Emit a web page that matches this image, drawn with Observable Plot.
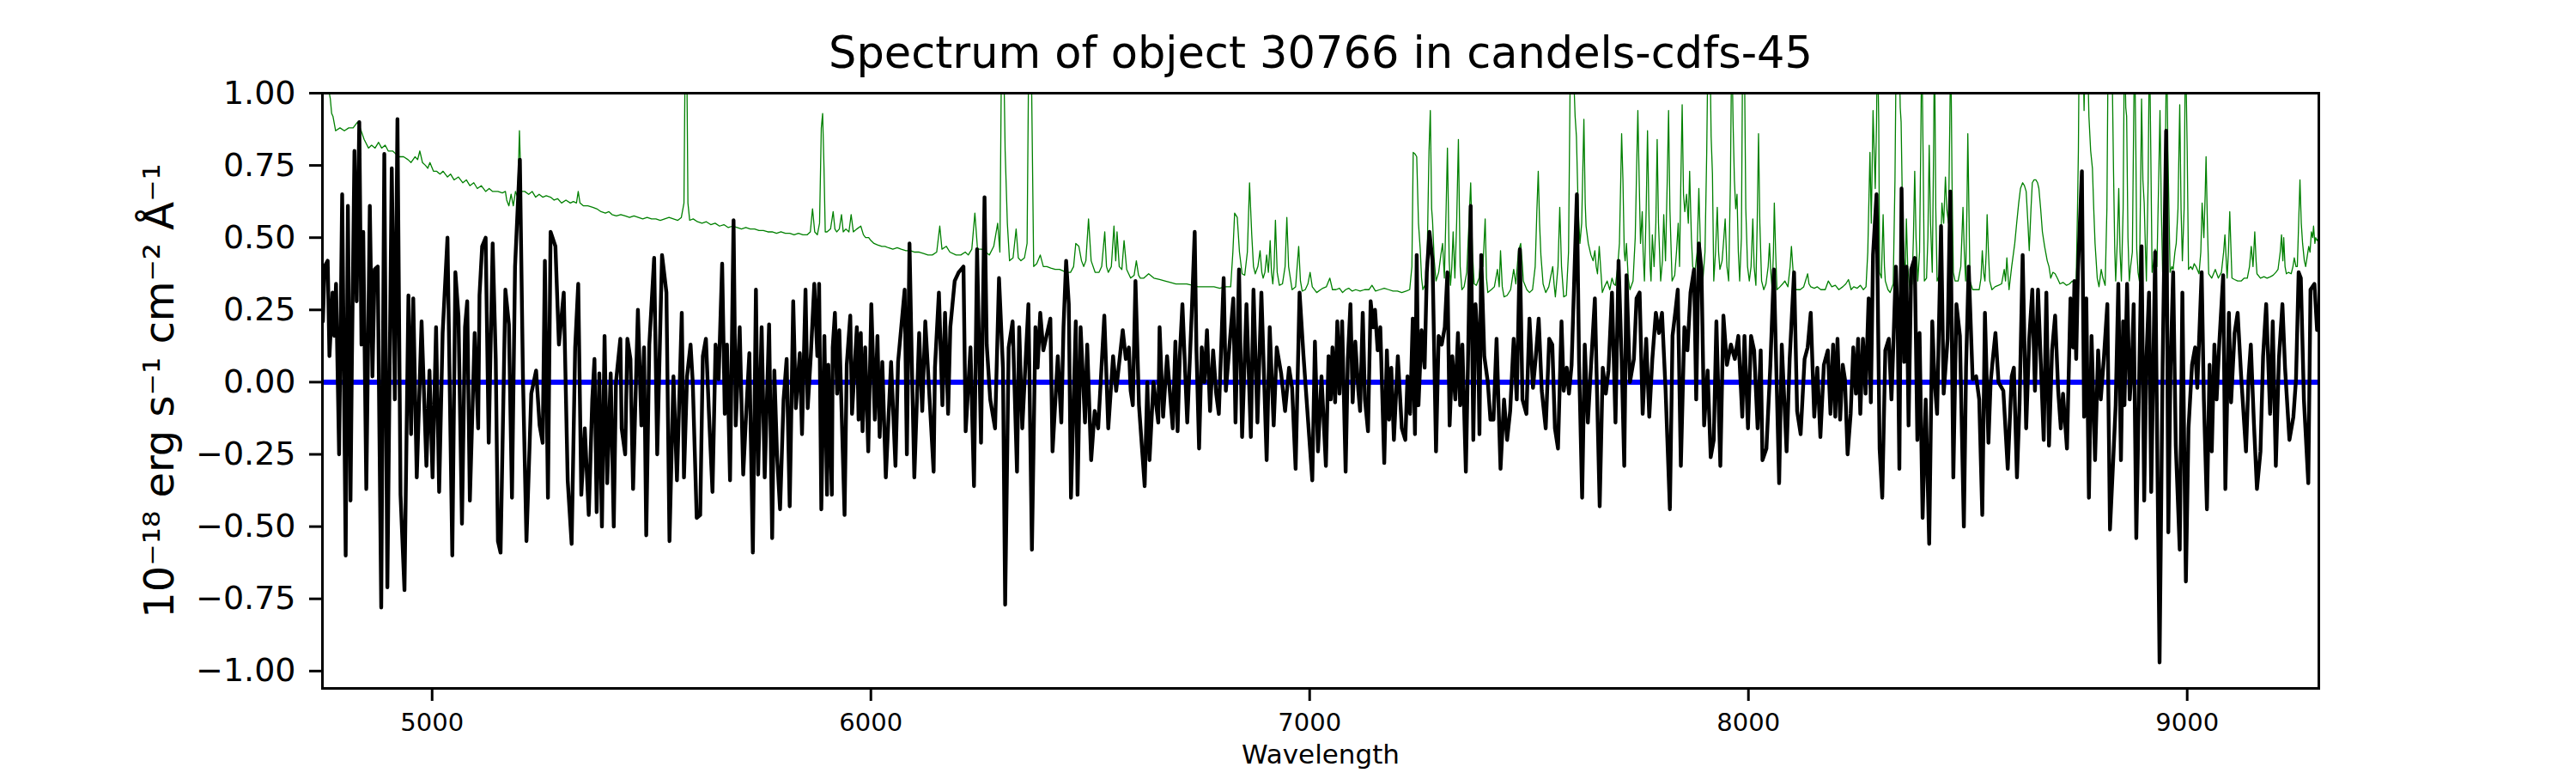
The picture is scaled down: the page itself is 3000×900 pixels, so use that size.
<!DOCTYPE html>
<html><head><meta charset="utf-8">
<script src="https://cdn.jsdelivr.net/npm/d3@7"></script>
<script src="https://cdn.jsdelivr.net/npm/@observablehq/plot@0.6"></script>
<style>html,body{margin:0;padding:0;background:#fff;} #chart{width:3000px;height:900px;}</style>
</head><body><div id="chart"></div>
<script>
const titleText = "Spectrum of object 30766 in candels-cdfs-45";
const xLabel = "Wavelength";
const yLabel = "10\u207B\u00B9\u2078 erg s\u207B\u00B9 cm\u207B\u00B2 \u00C5\u207B\u00B9";
const xTicks = [5000, 6000, 7000, 8000, 9000];
const yTicks = [-1, -0.75, -0.5, -0.25, 0, 0.25, 0.5, 0.75, 1];
const xDomain = [4750, 9300];
const yDomain = [-1.06, 1.0];
const zeroLevel = [0];

// observed flux: [wavelength, flux]
const fluxPairs = [
[4751,0.21],[4755,0.40],[4762,0.42],[4766,0.09],[4773,0.31],[4777,0.16],[4781,0.34],[4788,-0.25],[4795,0.65],[4803,-0.60],
[4808,0.61],[4814,-0.41],[4817,0.05],[4823,0.80],[4828,0.28],[4834,0.90],[4839,0.13],[4843,0.52],[4850,-0.37],[4858,0.61],
[4864,0.02],[4869,0.39],[4876,0.40],[4884,-0.78],[4891,0.79],[4898,-0.71],[4908,0.74],[4915,-0.06],[4921,0.91],[4928,-0.39],
[4937,-0.72],[4946,0.30],[4952,-0.18],[4957,0.29],[4965,-0.33],[4976,0.21],[4987,-0.29],[4994,0.04],[5001,-0.33],[5009,0.19],
[5016,-0.38],[5024,0.17],[5035,0.50],[5046,-0.60],[5053,0.38],[5060,0.23],[5068,-0.49],[5075,0.19],[5080,0.28],[5086,-0.41],
[5097,0.17],[5105,-0.16],[5108,0.30],[5114,0.47],[5122,0.50],[5129,-0.21],[5138,0.48],[5145,0.08],[5150,-0.55],[5156,-0.59],
[5167,0.32],[5175,0.20],[5182,-0.40],[5189,0.40],[5200,0.77],[5207,0.02],[5215,-0.55],[5226,-0.04],[5237,0.04],[5245,-0.15],
[5252,-0.21],[5257,0.42],[5264,-0.40],[5270,0.52],[5281,0.47],[5289,0.13],[5300,0.31],[5309,-0.34],[5318,-0.56],[5326,0.12],
[5333,0.34],[5340,-0.39],[5348,-0.16],[5357,-0.46],[5365,-0.06],[5370,0.08],[5375,-0.45],[5381,0.03],[5387,-0.50],[5393,0.16],
[5399,-0.35],[5407,0.03],[5414,-0.50],[5419,0.00],[5429,0.15],[5432,-0.16],[5440,-0.25],[5445,0.15],[5452,0.08],[5458,-0.37],
[5469,0.25],[5477,-0.15],[5483,0.12],[5488,-0.53],[5495,0.13],[5506,0.43],[5513,-0.25],[5524,0.44],[5534,0.31],[5541,-0.55],
[5550,0.02],[5558,-0.34],[5569,0.24],[5574,-0.33],[5581,0.02],[5589,0.13],[5594,0.00],[5603,-0.47],[5611,-0.46],[5617,0.09],
[5624,0.15],[5631,-0.11],[5639,-0.38],[5646,0.13],[5653,0.01],[5661,0.41],[5667,-0.11],[5672,0.13],[5679,-0.34],[5687,0.56],
[5692,-0.15],[5701,0.19],[5709,-0.32],[5716,-0.10],[5723,0.10],[5731,-0.59],[5738,0.32],[5743,-0.32],[5751,0.19],[5758,-0.33],
[5768,0.20],[5775,-0.54],[5780,0.04],[5786,-0.25],[5793,-0.44],[5801,-0.06],[5808,0.08],[5815,-0.43],[5823,0.28],[5829,-0.09],
[5838,0.10],[5843,-0.18],[5851,0.32],[5856,-0.09],[5863,0.09],[5871,0.34],[5878,0.09],[5882,0.34],[5887,-0.44],[5894,0.16],
[5900,-0.39],[5903,0.06],[5911,-0.39],[5913,0.12],[5918,0.24],[5923,-0.04],[5928,0.18],[5940,-0.46],[5945,0.06],[5953,0.23],
[5957,-0.11],[5968,0.19],[5972,-0.13],[5977,0.17],[5981,-0.17],[5987,0.12],[5994,-0.24],[6001,0.27],[6009,-0.13],[6015,0.16],
[6020,-0.19],[6026,0.07],[6034,-0.33],[6046,0.07],[6056,-0.29],[6062,0.07],[6077,0.32],[6082,-0.25],[6088,0.48],[6093,0.09],
[6099,-0.33],[6110,0.17],[6117,-0.10],[6124,0.21],[6143,-0.31],[6146,0.05],[6155,0.31],[6163,-0.08],[6169,0.24],[6176,-0.11],
[6181,0.19],[6191,0.35],[6200,0.38],[6211,0.40],[6216,-0.17],[6227,0.12],[6235,-0.36],[6242,0.46],[6251,-0.21],[6259,0.64],
[6264,0.13],[6272,-0.06],[6283,-0.16],[6292,0.36],[6301,0.05],[6306,-0.77],[6314,0.12],[6323,0.21],[6333,-0.31],[6338,0.19],
[6345,-0.16],[6359,0.27],[6367,-0.58],[6375,0.19],[6380,0.05],[6386,0.24],[6393,0.11],[6409,0.22],[6414,-0.24],[6426,0.09],
[6434,-0.14],[6439,0.19],[6445,0.42],[6451,0.27],[6456,-0.40],[6467,0.21],[6471,-0.39],[6478,0.19],[6488,-0.14],[6493,0.13],
[6502,-0.27],[6510,-0.10],[6518,-0.16],[6532,0.23],[6541,-0.16],[6552,0.09],[6559,-0.03],[6574,0.18],[6581,0.08],[6588,0.12],
[6592,-0.03],[6597,-0.08],[6603,0.35],[6611,-0.08],[6624,-0.36],[6630,0.00],[6635,-0.27],[6644,0.00],[6655,-0.14],[6658,0.19],
[6666,-0.12],[6675,0.09],[6688,-0.16],[6694,0.14],[6699,-0.17],[6704,0.09],[6710,0.27],[6721,-0.14],[6731,0.23],[6738,0.52],
[6742,0.11],[6748,-0.23],[6754,0.12],[6760,0.00],[6766,0.18],[6773,-0.10],[6780,0.11],[6787,-0.04],[6793,-0.11],[6804,0.36],
[6809,-0.03],[6826,0.29],[6831,-0.14],[6839,0.39],[6846,-0.19],[6856,0.27],[6866,-0.19],[6872,0.32],[6881,-0.14],[6890,0.31],
[6902,-0.27],[6909,0.19],[6918,-0.15],[6925,0.12],[6935,0.03],[6944,-0.10],[6953,0.05],[6960,-0.02],[6968,-0.30],[6977,0.31],
[6986,0.09],[7006,-0.34],[7012,0.14],[7019,-0.24],[7027,0.02],[7037,-0.29],[7043,0.09],[7048,-0.06],[7052,0.12],[7058,-0.07],
[7063,0.21],[7068,-0.04],[7074,0.21],[7082,-0.31],[7087,0.08],[7093,0.27],[7098,-0.07],[7104,0.14],[7111,-0.03],[7115,-0.10],
[7121,0.24],[7126,-0.06],[7133,-0.17],[7139,0.28],[7145,0.19],[7149,0.25],[7155,0.11],[7161,0.19],[7170,-0.28],[7176,0.11],
[7181,-0.13],[7186,0.05],[7192,-0.20],[7201,0.09],[7210,-0.16],[7218,-0.20],[7223,0.02],[7229,-0.11],[7235,0.22],[7240,-0.18],
[7244,0.44],[7248,-0.08],[7255,0.18],[7262,0.05],[7267,0.38],[7273,0.52],[7280,0.42],[7288,-0.24],[7294,0.16],[7301,0.13],
[7308,0.19],[7314,0.38],[7319,-0.15],[7325,0.09],[7332,-0.06],[7338,0.17],[7343,-0.08],[7348,0.13],[7356,-0.31],[7361,0.08],
[7367,0.61],[7373,-0.20],[7378,0.27],[7384,0.13],[7387,-0.18],[7391,0.44],[7398,0.09],[7406,0.00],[7412,-0.13],[7419,-0.13],
[7426,0.15],[7435,-0.30],[7443,-0.06],[7450,-0.20],[7457,-0.10],[7465,0.15],[7472,-0.06],[7479,0.46],[7485,-0.06],[7494,-0.11],
[7501,0.22],[7509,-0.02],[7515,0.08],[7522,0.22],[7529,-0.03],[7538,-0.16],[7546,0.15],[7553,0.13],[7559,-0.16],[7566,-0.23],
[7574,0.21],[7579,-0.03],[7586,0.05],[7591,-0.04],[7597,0.06],[7609,0.65],[7614,0.07],[7621,-0.40],[7627,0.13],[7634,-0.14],
[7641,0.05],[7650,0.29],[7661,-0.43],[7668,0.05],[7675,-0.04],[7681,0.04],[7689,0.31],[7697,-0.14],[7704,0.42],[7711,0.08],
[7717,-0.29],[7722,0.37],[7730,0.00],[7739,0.08],[7745,0.29],[7752,0.31],[7759,-0.11],[7767,0.15],[7774,-0.12],[7781,0.08],
[7789,0.24],[7796,0.17],[7803,0.24],[7811,-0.02],[7821,-0.44],[7827,0.16],[7834,0.25],[7839,0.32],[7846,-0.29],[7854,0.19],
[7861,0.11],[7868,0.31],[7876,0.39],[7881,-0.06],[7887,0.48],[7893,0.39],[7899,-0.15],[7907,0.04],[7914,-0.26],[7921,-0.20],
[7927,0.21],[7936,-0.29],[7943,0.23],[7951,0.06],[7960,0.13],[7969,0.08],[7977,0.16],[7986,-0.12],[7991,0.16],[7999,-0.16],
[8006,0.16],[8013,0.11],[8021,-0.16],[8028,0.11],[8032,-0.27],[8041,-0.23],[8050,0.06],[8058,0.39],[8070,-0.35],[8076,0.13],
[8087,-0.24],[8094,0.08],[8104,0.38],[8111,-0.10],[8119,-0.18],[8128,0.08],[8135,0.12],[8142,0.24],[8150,-0.12],[8157,0.05],
[8164,-0.19],[8172,0.06],[8181,0.11],[8187,-0.11],[8193,0.13],[8198,-0.12],[8203,0.15],[8209,-0.13],[8215,0.06],[8220,0.01],
[8226,-0.25],[8233,-0.11],[8239,0.12],[8245,-0.04],[8250,0.15],[8255,-0.11],[8261,0.15],[8267,-0.04],[8274,0.29],[8279,-0.07],
[8284,0.44],[8292,0.65],[8299,-0.23],[8305,-0.40],[8312,0.11],[8320,0.15],[8326,-0.06],[8331,0.16],[8336,0.40],[8340,0.22],
[8344,-0.30],[8349,0.67],[8355,0.07],[8360,0.40],[8365,-0.15],[8371,0.39],[8379,0.43],[8385,-0.20],[8390,0.17],[8397,-0.47],
[8404,-0.06],[8412,-0.56],[8419,0.21],[8424,0.01],[8430,-0.11],[8439,0.54],[8445,-0.04],[8454,0.15],[8460,0.66],[8467,-0.33],
[8474,0.27],[8482,0.16],[8491,-0.50],[8496,0.05],[8502,0.40],[8511,0.01],[8519,0.02],[8526,-0.06],[8533,-0.46],[8539,0.24],
[8547,-0.21],[8552,0.00],[8557,0.08],[8563,0.17],[8570,0.00],[8581,-0.03],[8591,-0.30],[8600,0.02],[8605,0.05],[8612,-0.33],
[8618,-0.07],[8625,0.44],[8633,-0.16],[8640,0.15],[8647,0.32],[8653,-0.03],[8660,0.32],[8666,0.08],[8673,-0.20],[8679,0.31],
[8685,-0.22],[8692,0.11],[8699,0.23],[8706,-0.03],[8712,-0.16],[8717,-0.04],[8726,-0.23],[8734,0.29],[8740,0.12],[8743,0.35],
[8747,0.08],[8751,0.38],[8760,0.73],[8765,-0.12],[8770,0.29],[8776,-0.40],[8782,0.16],[8790,-0.27],[8797,0.11],[8803,-0.06],
[8810,0.08],[8818,0.27],[8824,-0.51],[8832,-0.25],[8837,-0.08],[8843,0.34],[8849,-0.27],[8854,0.21],[8857,-0.08],[8863,0.34],
[8869,-0.06],[8874,0.06],[8878,0.27],[8884,-0.54],[8891,0.05],[8896,0.47],[8902,-0.41],[8907,0.08],[8913,0.31],[8918,-0.38],
[8927,0.45],[8937,-0.97],[8944,0.06],[8952,0.87],[8957,-0.52],[8962,0.05],[8968,0.38],[8974,-0.22],[8983,-0.58],[8989,0.31],
[8997,-0.69],[9003,-0.16],[9011,0.06],[9018,0.12],[9023,-0.02],[9033,0.38],[9038,-0.06],[9045,-0.44],[9051,0.06],[9056,-0.24],
[9062,0.13],[9067,-0.06],[9073,0.13],[9082,0.37],[9087,-0.37],[9095,0.24],[9100,-0.07],[9108,0.17],[9115,0.24],[9123,0.02],
[9134,-0.24],[9140,0.02],[9145,0.13],[9152,-0.14],[9159,-0.37],[9167,-0.24],[9173,0.09],[9180,0.27],[9189,-0.11],[9195,0.21],
[9202,-0.29],[9209,0.08],[9217,0.27],[9223,0.05],[9233,-0.20],[9242,-0.12],[9248,0.01],[9254,0.38],[9259,0.36],[9266,-0.06],
[9276,-0.35],[9281,0.32],[9290,0.34],[9296,0.18],[9300,0.18]
];

// noise / sky spectrum: [wavelength, flux]
const noisePairs = [
[4752,1.15],[4760,1.05],[4768,0.98],[4771,0.93],[4774,0.92],[4780,0.87],[4790,0.88],[4800,0.87],[4810,0.88],[4820,0.88],
[4830,0.90],[4836,0.88],[4845,0.84],[4855,0.81],[4862,0.82],[4870,0.81],[4878,0.83],[4885,0.81],[4893,0.82],[4900,0.80],
[4910,0.80],[4917,0.79],[4925,0.78],[4935,0.78],[4945,0.77],[4952,0.76],[4961,0.78],[4967,0.77],[4972,0.80],[4978,0.76],
[4985,0.75],[4990,0.74],[4995,0.76],[5003,0.73],[5010,0.73],[5018,0.72],[5025,0.73],[5035,0.71],[5042,0.72],[5050,0.70],
[5060,0.71],[5070,0.69],[5078,0.70],[5086,0.68],[5095,0.69],[5103,0.67],[5112,0.68],[5122,0.66],[5130,0.67],[5138,0.66],
[5150,0.66],[5160,0.655],[5167,0.66],[5170,0.63],[5175,0.61],[5180,0.65],[5185,0.61],[5190,0.66],[5195,0.64],[5199,0.87],
[5203,0.66],[5211,0.66],[5220,0.65],[5228,0.66],[5236,0.64],[5244,0.65],[5252,0.64],[5260,0.645],[5270,0.64],[5278,0.63],
[5286,0.635],[5295,0.62],[5305,0.63],[5315,0.62],[5322,0.625],[5329,0.62],[5333,0.66],[5337,0.62],[5345,0.61],[5355,0.61],
[5366,0.605],[5375,0.60],[5385,0.59],[5395,0.585],[5403,0.59],[5410,0.58],[5420,0.575],[5430,0.58],[5440,0.575],[5450,0.57],
[5460,0.575],[5470,0.57],[5480,0.565],[5490,0.57],[5500,0.565],[5510,0.565],[5520,0.56],[5530,0.565],[5540,0.57],[5550,0.565],
[5560,0.56],[5568,0.57],[5574,0.62],[5577,1.2],[5580,1.2],[5583,0.62],[5587,0.56],[5595,0.565],[5605,0.555],[5615,0.55],
[5625,0.555],[5635,0.545],[5645,0.55],[5655,0.54],[5665,0.545],[5675,0.535],[5685,0.54],[5695,0.535],[5705,0.53],[5715,0.535],
[5725,0.53],[5735,0.53],[5745,0.525],[5755,0.525],[5765,0.52],[5775,0.52],[5785,0.515],[5795,0.52],[5805,0.515],[5815,0.515],
[5825,0.51],[5835,0.515],[5845,0.51],[5855,0.51],[5862,0.52],[5867,0.60],[5872,0.52],[5878,0.51],[5883,0.55],[5887,0.88],
[5890,0.93],[5893,0.75],[5896,0.52],[5900,0.52],[5908,0.53],[5914,0.59],[5918,0.53],[5922,0.52],[5928,0.53],[5933,0.58],
[5937,0.52],[5943,0.53],[5950,0.52],[5955,0.58],[5960,0.52],[5968,0.53],[5977,0.54],[5983,0.51],[5988,0.50],[5995,0.50],
[6000,0.49],[6007,0.48],[6015,0.475],[6025,0.47],[6032,0.47],[6040,0.465],[6050,0.46],[6060,0.465],[6069,0.46],[6080,0.455],
[6090,0.455],[6100,0.45],[6110,0.45],[6120,0.445],[6130,0.44],[6140,0.44],[6150,0.45],[6157,0.54],[6162,0.46],[6172,0.47],
[6180,0.45],[6194,0.44],[6205,0.44],[6215,0.45],[6222,0.44],[6230,0.46],[6237,0.585],[6243,0.46],[6253,0.46],[6262,0.45],
[6270,0.44],[6280,0.47],[6289,0.55],[6294,0.45],[6298,1.2],[6302,1.2],[6306,0.8],[6311,0.55],[6316,0.42],[6324,0.43],
[6331,0.53],[6336,0.43],[6342,0.42],[6350,0.43],[6356,0.48],[6360,1.2],[6365,1.2],[6371,0.40],[6378,0.41],[6386,0.44],
[6393,0.40],[6401,0.40],[6410,0.395],[6420,0.39],[6430,0.39],[6438,0.385],[6445,0.38],[6455,0.38],[6462,0.40],[6467,0.48],
[6474,0.47],[6480,0.42],[6485,0.40],[6490,0.42],[6496,0.565],[6502,0.42],[6511,0.38],[6520,0.38],[6526,0.40],[6533,0.52],
[6537,0.40],[6541,0.38],[6548,0.40],[6554,0.54],[6558,0.42],[6561,0.52],[6566,0.40],[6572,0.39],[6577,0.49],[6583,0.39],
[6592,0.36],[6600,0.37],[6605,0.42],[6610,0.37],[6614,0.36],[6622,0.36],[6633,0.375],[6645,0.36],[6658,0.355],[6670,0.35],
[6683,0.345],[6695,0.34],[6710,0.34],[6720,0.34],[6732,0.335],[6745,0.33],[6757,0.33],[6769,0.33],[6782,0.33],[6795,0.325],
[6808,0.33],[6820,0.33],[6825,0.45],[6829,0.585],[6835,0.57],[6840,0.45],[6846,0.375],[6852,0.37],[6858,0.45],[6863,0.69],
[6868,0.51],[6872,0.40],[6876,0.375],[6882,0.40],[6887,0.455],[6891,0.38],[6894,0.36],[6898,0.38],[6902,0.44],[6906,0.38],
[6910,0.49],[6913,0.38],[6916,0.34],[6919,0.40],[6922,0.56],[6926,0.38],[6931,0.335],[6938,0.34],[6944,0.40],[6948,0.57],
[6952,0.40],[6960,0.32],[6968,0.33],[6975,0.47],[6979,0.35],[6983,0.315],[6990,0.32],[6996,0.34],[7001,0.38],[7006,0.33],
[7016,0.31],[7025,0.32],[7030,0.325],[7038,0.33],[7046,0.36],[7052,0.32],[7060,0.32],[7068,0.325],[7075,0.31],[7082,0.32],
[7089,0.325],[7097,0.315],[7105,0.32],[7115,0.315],[7125,0.32],[7135,0.32],[7142,0.335],[7150,0.315],[7160,0.32],[7170,0.325],
[7180,0.32],[7190,0.315],[7200,0.315],[7210,0.31],[7220,0.315],[7228,0.32],[7233,0.40],[7236,0.795],[7240,0.79],[7244,0.78],
[7248,0.55],[7252,0.46],[7255,0.36],[7258,0.32],[7264,0.34],[7268,0.45],[7272,0.80],[7275,0.94],[7278,0.60],[7280,0.56],
[7284,0.42],[7288,0.35],[7294,0.38],[7299,0.44],[7303,0.48],[7307,0.36],[7311,0.60],[7314,0.81],[7318,0.42],[7321,0.335],
[7324,0.40],[7327,0.52],[7331,0.36],[7335,0.55],[7339,0.84],[7343,0.40],[7347,0.32],[7352,0.33],[7358,0.38],[7363,0.55],
[7367,0.69],[7371,0.45],[7375,0.34],[7380,0.335],[7386,0.36],[7391,0.44],[7395,0.40],[7400,0.565],[7403,0.36],[7406,0.31],
[7414,0.32],[7421,0.33],[7428,0.39],[7432,0.33],[7435,0.455],[7439,0.33],[7443,0.295],[7450,0.30],[7458,0.32],[7465,0.39],
[7470,0.34],[7476,0.455],[7481,0.48],[7485,0.40],[7487,0.35],[7495,0.32],[7501,0.31],[7508,0.32],[7514,0.40],[7518,0.60],
[7521,0.73],[7524,0.55],[7527,0.44],[7532,0.34],[7538,0.31],[7545,0.33],[7550,0.37],[7554,0.40],[7557,0.34],[7560,0.295],
[7566,0.40],[7570,0.605],[7574,0.40],[7579,0.295],[7585,0.30],[7590,0.45],[7594,1.1],[7598,1.2],[7602,1.05],[7605,0.92],
[7608,0.85],[7612,0.60],[7616,0.48],[7620,0.55],[7625,0.91],[7628,0.62],[7630,0.54],[7635,0.48],[7641,0.44],[7646,0.42],
[7650,0.455],[7653,0.40],[7656,0.375],[7660,0.47],[7663,0.40],[7667,0.31],[7672,0.33],[7678,0.35],[7684,0.32],[7689,0.36],
[7693,0.34],[7697,0.335],[7702,0.40],[7706,0.48],[7709,0.70],[7711,0.86],[7714,0.70],[7717,0.45],[7719,0.42],[7722,0.48],
[7726,0.36],[7730,0.32],[7737,0.35],[7742,0.50],[7746,0.80],[7748,0.94],[7751,0.70],[7754,0.48],[7758,0.59],[7760,0.45],
[7763,0.35],[7767,0.60],[7770,0.87],[7773,0.60],[7776,0.40],[7778,0.35],[7781,0.51],[7785,0.40],[7789,0.55],[7792,0.84],
[7795,0.55],[7800,0.35],[7804,0.42],[7807,0.58],[7811,0.42],[7815,0.70],[7818,0.94],[7821,0.60],[7826,0.35],[7832,0.37],
[7836,0.45],[7840,0.55],[7843,0.40],[7846,0.70],[7849,0.96],[7852,0.65],[7855,0.59],[7859,0.65],[7863,0.55],[7866,0.73],
[7870,0.50],[7873,0.40],[7878,0.38],[7883,0.45],[7887,0.67],[7891,0.45],[7896,0.35],[7901,0.45],[7905,0.80],[7908,1.2],
[7912,1.2],[7915,0.85],[7918,0.72],[7921,0.35],[7925,0.45],[7929,0.605],[7932,0.45],[7935,0.39],[7940,0.42],[7944,0.50],
[7947,0.565],[7951,0.40],[7955,0.35],[7959,0.70],[7962,1.2],[7965,0.90],[7968,0.70],[7971,0.60],[7974,0.65],[7977,0.45],
[7980,0.35],[7984,0.50],[7987,1.2],[7991,1.1],[7994,0.60],[7998,0.40],[8002,0.35],[8006,0.40],[8010,0.565],[8013,0.40],
[8017,0.335],[8020,0.55],[8023,0.86],[8026,0.55],[8030,0.35],[8035,0.32],[8040,0.34],[8045,0.40],[8048,0.48],[8051,0.38],
[8054,0.32],[8057,0.45],[8059,0.62],[8062,0.45],[8065,0.32],[8072,0.33],[8078,0.34],[8083,0.35],[8090,0.33],[8095,0.40],
[8098,0.47],[8102,0.38],[8106,0.33],[8109,0.32],[8118,0.32],[8126,0.33],[8132,0.36],[8135,0.375],[8138,0.34],[8142,0.33],
[8150,0.325],[8157,0.33],[8165,0.32],[8175,0.32],[8182,0.35],[8190,0.33],[8198,0.335],[8206,0.32],[8215,0.33],[8222,0.34],
[8228,0.355],[8234,0.32],[8240,0.33],[8248,0.325],[8255,0.335],[8262,0.32],[8268,0.33],[8272,0.45],[8277,0.795],[8280,0.55],
[8284,0.94],[8289,0.67],[8292,0.90],[8294,1.2],[8297,0.90],[8299,0.38],[8303,0.36],[8307,0.58],[8310,0.40],[8312,0.35],
[8318,0.32],[8323,0.31],[8330,0.34],[8334,0.70],[8337,1.2],[8340,1.2],[8343,1.2],[8346,0.95],[8348,0.90],[8351,0.60],
[8353,0.48],[8357,0.35],[8360,0.565],[8363,0.40],[8368,0.32],[8373,0.34],[8376,0.50],[8379,0.73],[8382,0.50],[8386,0.35],
[8390,0.45],[8393,0.85],[8395,1.2],[8398,0.80],[8401,0.35],[8406,0.36],[8409,0.50],[8412,0.82],[8415,0.55],[8419,0.38],
[8422,0.80],[8424,1.2],[8427,0.60],[8430,0.35],[8435,0.37],[8438,0.45],[8441,0.62],[8445,0.55],[8449,0.71],[8452,0.60],
[8456,0.55],[8459,0.90],[8461,1.2],[8464,0.70],[8467,0.38],[8471,0.35],[8478,0.35],[8484,0.40],[8489,0.605],[8492,0.45],
[8495,0.35],[8498,0.60],[8500,0.86],[8503,0.55],[8505,0.35],[8511,0.32],[8518,0.32],[8526,0.32],[8530,0.36],[8533,0.455],
[8536,0.38],[8539,0.35],[8542,0.45],[8544,0.58],[8547,0.45],[8550,0.35],[8555,0.32],[8562,0.33],[8570,0.335],[8577,0.34],
[8583,0.39],[8586,0.35],[8589,0.43],[8592,0.36],[8594,0.32],[8600,0.40],[8607,0.48],[8612,0.56],[8616,0.62],[8620,0.67],
[8625,0.69],[8629,0.68],[8633,0.66],[8637,0.55],[8640,0.455],[8644,0.60],[8647,0.69],[8651,0.70],[8655,0.70],[8659,0.69],
[8662,0.67],[8666,0.60],[8670,0.52],[8675,0.47],[8681,0.42],[8685,0.40],[8689,0.36],[8694,0.38],[8699,0.375],[8704,0.36],
[8710,0.34],[8717,0.345],[8725,0.335],[8732,0.34],[8738,0.35],[8743,0.34],[8747,0.355],[8750,0.60],[8752,0.80],[8754,1.2],
[8758,1.2],[8762,1.2],[8765,0.94],[8768,1.2],[8772,1.2],[8776,0.92],[8780,0.80],[8784,0.74],[8787,0.60],[8790,0.48],
[8795,0.36],[8799,0.33],[8804,0.39],[8808,0.36],[8813,0.335],[8817,0.60],[8820,1.2],[8824,1.2],[8828,1.2],[8832,0.74],
[8835,0.45],[8837,0.35],[8841,0.50],[8844,0.67],[8847,0.45],[8850,0.35],[8854,0.60],[8857,1.2],[8860,0.95],[8862,0.92],
[8865,0.50],[8868,0.35],[8871,0.40],[8875,0.45],[8878,0.90],[8880,1.2],[8883,0.80],[8885,0.46],[8888,0.38],[8891,0.35],
[8894,0.70],[8896,0.98],[8899,0.70],[8902,0.62],[8905,0.45],[8907,0.35],[8911,0.70],[8914,1.2],[8917,0.80],[8920,0.38],
[8924,0.42],[8927,0.46],[8931,0.40],[8935,0.70],[8938,0.94],[8941,0.60],[8944,0.38],[8948,0.45],[8951,0.90],[8953,1.2],
[8956,0.80],[8961,0.38],[8965,0.40],[8968,0.39],[8972,0.45],[8975,0.48],[8979,0.60],[8983,0.96],[8986,0.60],[8989,0.42],
[8993,0.60],[8996,1.2],[9000,0.80],[9003,0.39],[9008,0.40],[9012,0.39],[9016,0.41],[9020,0.40],[9027,0.375],[9031,0.45],
[9034,0.62],[9038,0.50],[9041,0.65],[9043,0.78],[9046,0.55],[9049,0.375],[9056,0.36],[9064,0.39],[9071,0.36],[9078,0.38],
[9083,0.45],[9086,0.51],[9089,0.42],[9091,0.36],[9094,0.45],[9097,0.59],[9100,0.45],[9102,0.36],[9108,0.355],[9115,0.35],
[9123,0.35],[9130,0.36],[9137,0.36],[9142,0.40],[9146,0.47],[9150,0.40],[9154,0.52],[9157,0.42],[9159,0.375],[9167,0.36],
[9175,0.365],[9182,0.36],[9190,0.365],[9196,0.37],[9202,0.38],[9207,0.39],[9212,0.45],[9215,0.51],[9218,0.42],[9220,0.50],
[9223,0.40],[9226,0.375],[9231,0.38],[9237,0.375],[9241,0.40],[9244,0.43],[9248,0.40],[9251,0.40],[9254,0.55],[9257,0.70],
[9260,0.55],[9263,0.48],[9267,0.42],[9270,0.40],[9274,0.44],[9277,0.47],[9280,0.45],[9283,0.52],[9286,0.50],[9288,0.54],
[9291,0.48],[9293,0.50],[9296,0.49],[9300,0.50]
];

const flux = fluxPairs.map(([w, f]) => ({w, f}));
const noise = noisePairs.map(([w, f]) => ({w, f}));

const chart = Plot.plot({
  width: 3000,
  height: 900,
  marginLeft: 375,
  marginRight: 300,
  marginTop: 108,
  marginBottom: 99,
  style: {fontFamily: "'DejaVu Sans', sans-serif", background: "white", color: "black", overflow: "visible"},
  x: {domain: xDomain, label: null},
  y: {domain: yDomain, label: null},
  marks: [
    Plot.line(noise, {x: "w", y: "f", stroke: "#008000", strokeWidth: 1.3, clip: true}),
    Plot.ruleY(zeroLevel, {stroke: "#0000ff", strokeWidth: 6}),
    Plot.line(flux, {x: "w", y: "f", stroke: "#000000", strokeWidth: 4.4, clip: true}),
    Plot.frame({stroke: "#000000", strokeWidth: 3}),
    Plot.axisX(xTicks, {tickSize: 15, tickPadding: 14, fontSize: 29, strokeWidth: 3, tickFormat: d => String(d), label: null}),
    Plot.axisY(yTicks, {tickSize: 15, tickPadding: 16, fontSize: 38, strokeWidth: 3, tickFormat: d3.format(".2f"), label: null}),
    Plot.text([titleText], {text: d => d, frameAnchor: "top", lineAnchor: "middle", textAnchor: "middle", dy: -46, fontSize: 51, fill: "#000"}),
    Plot.text([xLabel], {text: d => d, frameAnchor: "bottom", lineAnchor: "middle", textAnchor: "middle", dy: 78, fontSize: 31, fill: "#000"}),
    Plot.text([yLabel], {text: d => d, frameAnchor: "left", lineAnchor: "middle", textAnchor: "middle", dx: -189, rotate: -90, fontSize: 48, fill: "#000"})
  ]
});
document.getElementById("chart").appendChild(chart);
</script>
</body></html>
